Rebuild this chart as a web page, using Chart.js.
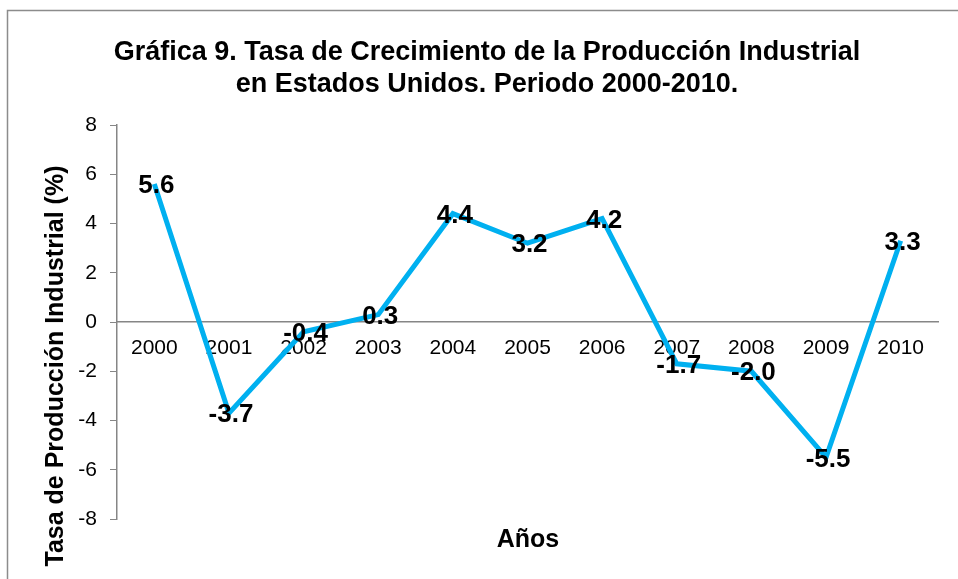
<!DOCTYPE html>
<html>
<head>
<meta charset="utf-8">
<script src="https://cdn.jsdelivr.net/npm/chart.js@4/dist/chart.umd.min.js"></script>
<style>
    html, body { margin: 0; padding: 0; background: #fff; }
    #wrap { width: 958px; height: 579px; position: relative; }
</style>
</head>
<body>
<div id="wrap"><canvas id="chart" width="958" height="579"></canvas></div>
<script>
// chart data
const years = ['2000', '2001', '2002', '2003', '2004', '2005', '2006', '2007', '2008', '2009', '2010'];
const growthRate = [5.6, -3.7, -0.4, 0.3, 4.4, 3.2, 4.2, -1.7, -2.0, -5.5, 3.3];
const titleLines = ['Gráfica 9. Tasa de Crecimiento de la Producción Industrial', 'en Estados Unidos. Periodo 2000-2010.'];
const xTitle = 'Años';
const yTitle = 'Tasa de Producción Industrial (%)';

const FONT = '"Liberation Sans", Arial, sans-serif';

// border, titles and value labels drawn by hand
const decorations = {
    id: 'decorations',
    beforeDraw(chart) {
        const ctx = chart.ctx;
        ctx.save();
        ctx.fillStyle = '#fff';
        ctx.fillRect(0, 0, chart.width, chart.height);
        ctx.strokeStyle = '#8c8c8c';
        ctx.lineWidth = 1.5;
        ctx.strokeRect(7.5, 10.5, 1000, 1000);
        ctx.restore();
    },
    afterDraw(chart) {
        const ctx = chart.ctx;
        ctx.save();
        ctx.fillStyle = '#000';
        ctx.textAlign = 'center';
        ctx.textBaseline = 'middle';
        ctx.font = 'bold 27px ' + FONT;
        ctx.fillText(titleLines[0], 487, 53);
        ctx.fillText(titleLines[1], 487, 85);
        ctx.font = 'bold 25px ' + FONT;
        ctx.fillText(xTitle, 528, 540);

        ctx.save();
        ctx.translate(56, 366);
        ctx.rotate(-Math.PI / 2);
        ctx.fillText(yTitle, 0, 0);
        ctx.restore();

        // value labels on the points
        ctx.font = 'bold 26px ' + FONT;
        const meta = chart.getDatasetMeta(0);
        meta.data.forEach((pt, i) => {
            const v = growthRate[i];
            ctx.fillText(v.toFixed(1), pt.x + 2, pt.y + 2);
        });
        ctx.restore();
    }
};

new Chart(document.getElementById('chart'), {
    type: 'line',
    data: {
        labels: years,
        datasets: [{
            data: growthRate,
            borderColor: '#00B0F0',
            borderWidth: 5,
            pointRadius: 0,
            tension: 0,
            fill: false
        }]
    },
    options: {
        responsive: false,
        animation: false,
        layout: { padding: { left: 0, top: 125, right: 20, bottom: 60 } },
        plugins: {
            legend: { display: false },
            title: { display: false },
            tooltip: { enabled: false }
        },
        scales: {
            x: {
                position: { y: 0 },
                offset: true,
                grid: { display: true, drawOnChartArea: false, drawTicks: false },
                border: { color: '#868686', width: 1.5 },
                ticks: {
                    color: '#000',
                    font: { family: FONT, size: 21 },
                    padding: 14,
                    maxRotation: 0
                }
            },
            y: {
                min: -8,
                max: 8,
                afterFit: (s) => { s.width = 117; },
                grid: { drawOnChartArea: false, drawTicks: true, tickLength: 7, color: '#868686' },
                border: { color: '#868686', width: 1.5 },
                ticks: {
                    stepSize: 2,
                    color: '#000',
                    font: { family: FONT, size: 21 },
                    padding: 13
                }
            }
        }
    },
    plugins: [decorations]
});
</script>
</body>
</html>
